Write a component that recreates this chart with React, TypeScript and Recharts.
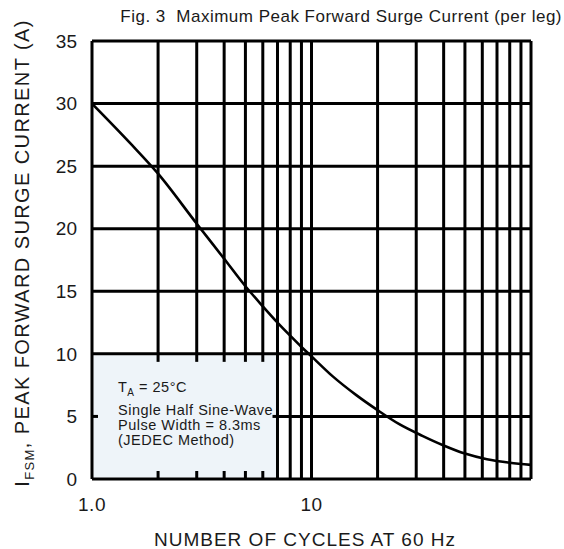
import { ComposedChart, Line, XAxis, YAxis, ReferenceLine, ReferenceArea, Customized } from "recharts";

// number of cycles at 60 Hz vs peak forward surge current (A)
const cycles = [1, 1.5, 2, 3, 4, 5, 6, 7, 8, 9, 10, 12.5, 16, 20, 25, 32, 40, 50, 63, 80, 100];
const current = [30, 26.8, 24.4, 20.4, 17.6, 15.4, 13.8, 12.5, 11.45, 10.55, 9.8, 8.2, 6.7, 5.5, 4.4, 3.45, 2.68, 2.03, 1.58, 1.3, 1.13];

const xTicks = [1, 10];
const yTicks = [0, 5, 10, 15, 20, 25, 30, 35];
const gridX = [1, 2, 3, 4, 5, 6, 7, 8, 9, 10, 20, 30, 40, 50, 60, 70, 80, 90, 100];
const gridY = [0, 5, 10, 15, 20, 25, 30, 35];

// annotation box (lower-left), grid is hidden behind it
const boxX: [number, number] = [1, 7];
const boxY: [number, number] = [0, 10];
const notes = ["Single Half Sine-Wave", "Pulse Width = 8.3ms", "(JEDEC Method)"];

const FONT = "'Liberation Sans', Arial, Helvetica, sans-serif";
const INK = "#1a1a1a";

const data = cycles.map((c, i) => ({ cycles: c, current: current[i] }));

const insideBoxX = (x: number) => x > boxX[0] && x < boxX[1];
const insideBoxY = (y: number) => y > boxY[0] && y < boxY[1];

// box fill + short stubs of the grid lines it hides (same log mapping as the x axis)
function BoxShape(props: any) {
  const x = Number(props.x);
  const y = Number(props.y);
  const width = Number(props.width);
  const height = Number(props.height);
  const px = (v: number) => x + (width * Math.log10(v / boxX[0])) / Math.log10(boxX[1] / boxX[0]);
  const py = (v: number) => y + height * (1 - (v - boxY[0]) / (boxY[1] - boxY[0]));
  const s = { stroke: "#000", strokeWidth: 3 };
  const stubs: any[] = [];
  gridX.filter(insideBoxX).forEach((v) => {
    stubs.push(<line key={`b${v}`} x1={px(v)} x2={px(v)} y1={y + height} y2={y + height - 8} {...s} />);
    stubs.push(<line key={`t${v}`} x1={px(v)} x2={px(v)} y1={y} y2={y + 8} {...s} />);
  });
  gridY.filter(insideBoxY).forEach((v) => {
    stubs.push(<line key={`l${v}`} x1={x} x2={x + 6} y1={py(v)} y2={py(v)} {...s} />);
    stubs.push(<line key={`r${v}`} x1={x + width - 5} x2={x + width} y1={py(v)} y2={py(v)} {...s} />);
  });
  return (
    <g>
      <rect x={x + 1.5} y={y + 1.5} width={width - 3} height={height - 3} fill="#eef4f9" />
      {stubs}
    </g>
  );
}

function BoxLabel(props: any) {
  const vb = props.viewBox || {};
  const x = vb.x + 26;
  const y = vb.y;
  return (
    <g fontFamily={FONT} fill={INK} fontSize={14.5} letterSpacing={0.5}>
      <text x={x} y={y + 38}>
        T<tspan fontSize={10} dy={4}>A</tspan>
        <tspan dy={-4}> = 25°C</tspan>
      </text>
      {notes.map((n, i) => (
        <text key={n} x={x} y={y + 61 + i * 15}>
          {n}
        </text>
      ))}
    </g>
  );
}

function Titles() {
  return (
    <g fontFamily={FONT} fill={INK}>
      <text x={562} y={22} textAnchor="end" fontSize={17} letterSpacing={0.5}>
        {"Fig. 3\u00a0\u00a0Maximum Peak Forward Surge Current (per leg)"}
      </text>
      <text x={305} y={546} textAnchor="middle" fontSize={19} letterSpacing={1}>
        NUMBER OF CYCLES AT 60 Hz
      </text>
      <text transform="rotate(-90)" x={-253} y={29} textAnchor="middle" fontSize={20} letterSpacing={1.4}>
        I<tspan fontSize={13} dy={5}>FSM</tspan>
        <tspan dy={-5}>, PEAK FORWARD SURGE CURRENT (A)</tspan>
      </text>
    </g>
  );
}

export default function App() {
  const line = { stroke: "#000", strokeWidth: 3 };
  return (
    <div style={{ position: "absolute", left: 0, top: 0, width: 564, height: 549, background: "#fff" }}>
      <ComposedChart width={564} height={549} data={data} margin={{ top: 41, right: 33, bottom: 0, left: 0 }}>
        <XAxis
          dataKey="cycles"
          type="number"
          scale="log"
          domain={[1, 100]}
          ticks={xTicks}
          allowDataOverflow
          axisLine={false}
          tickLine={false}
          tickSize={0}
          tickMargin={19}
          height={70}
          tickFormatter={(v) => (v === 1 ? "1.0" : String(v))}
          tick={{ fontSize: 19, fill: INK, fontFamily: FONT, letterSpacing: 0.5 } as any}
        />
        <YAxis
          type="number"
          domain={[0, 35]}
          ticks={yTicks}
          allowDataOverflow
          axisLine={false}
          tickLine={false}
          tickSize={0}
          tickMargin={15}
          width={92}
          tick={{ fontSize: 19, fill: INK, fontFamily: FONT } as any}
        />

        {gridY.map((y) =>
          insideBoxY(y) ? (
            <ReferenceLine key={`gy${y}`} segment={[{ x: boxX[1], y }, { x: 100, y }]} {...line} />
          ) : (
            <ReferenceLine key={`gy${y}`} y={y} {...line} />
          )
        )}

        {gridX.map((x) =>
          insideBoxX(x) ? (
            <ReferenceLine key={`gx${x}`} segment={[{ x, y: boxY[1] }, { x, y: 35 }]} {...line} />
          ) : (
            <ReferenceLine key={`gx${x}`} x={x} {...line} />
          )
        )}

        <ReferenceArea x1={boxX[0]} x2={boxX[1]} y1={boxY[0]} y2={boxY[1]} shape={<BoxShape />} label={<BoxLabel />} />

        <Line
          dataKey="current"
          type="monotone"
          stroke="#000"
          strokeWidth={2.6}
          dot={false}
          activeDot={false}
          isAnimationActive={false}
        />
        <Customized component={Titles} />
      </ComposedChart>
    </div>
  );
}
